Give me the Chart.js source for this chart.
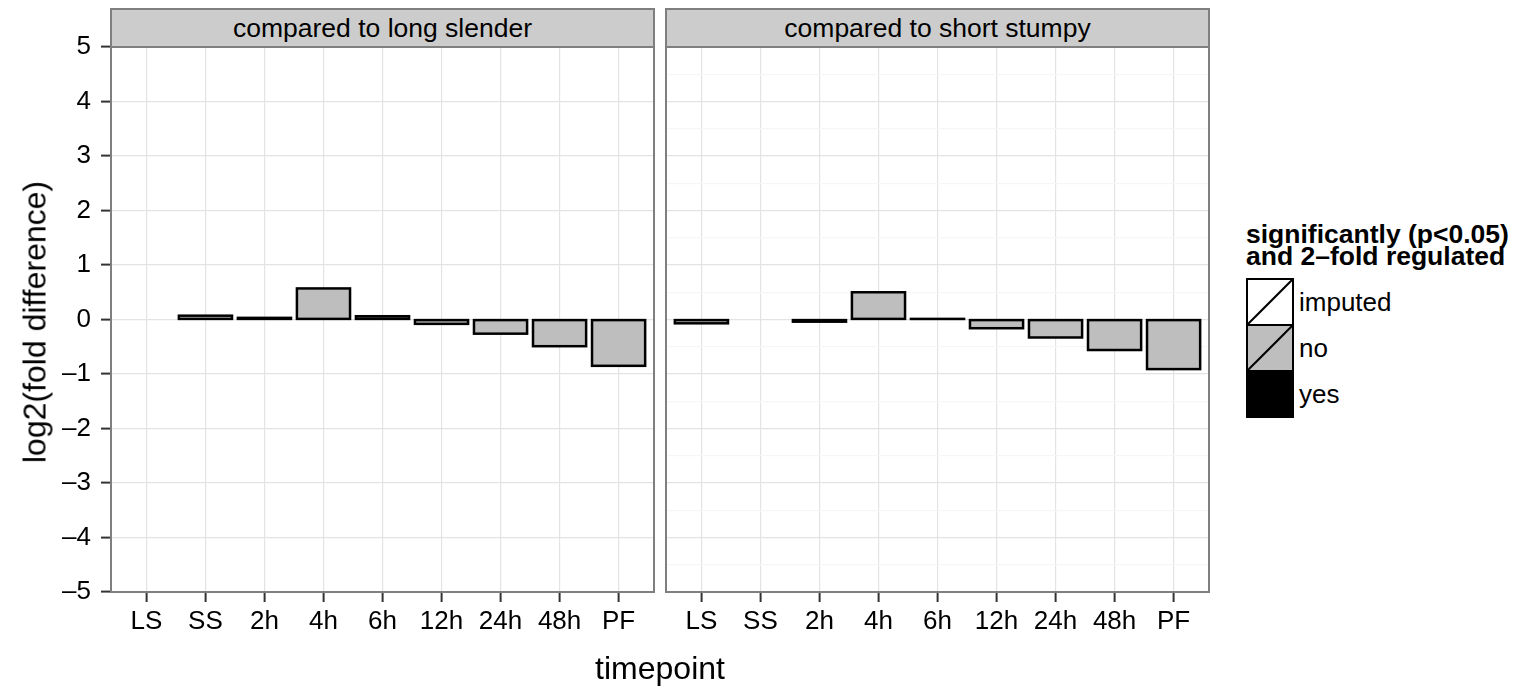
<!DOCTYPE html>
<html>
<head>
<meta charset="utf-8">
<script src="https://cdn.jsdelivr.net/npm/chart.js@4.4.1/dist/chart.umd.min.js"></script>
<style>
    body { margin: 0; width: 1530px; height: 688px; background: #fff; position: relative; overflow: hidden;
           font-family: "Liberation Sans", Arial, Helvetica, sans-serif; color: #000; }
    canvas { position: absolute; top: 0; }
    .strip { position: absolute; top: 8px; height: 40px; box-sizing: border-box; border: 2px solid #7f7f7f;
             background: #cccccc; font-size: 26.5px; line-height: 36px; text-align: center; white-space: nowrap; }
    .axTitle { position: absolute; font-size: 32px; white-space: nowrap; transform: translate(-50%, -50%); }
    #legTitle { position: absolute; left: 1246px; top: 224px; font-size: 26.5px; font-weight: bold; line-height: 21.5px; white-space: nowrap; }
    .legLabel { position: absolute; left: 1299px; font-size: 26px; transform: translateY(-50%); white-space: nowrap; }
</style>
</head>
<body>
<canvas id="painel1" width="660" height="688" style="left:0px"></canvas>
<canvas id="painel2" width="560" height="688" style="left:660px"></canvas>
<div class="strip" id="strip1" style="left:110px; width:545px"></div>
<div class="strip" id="strip2" style="left:665px; width:545px"></div>
<div class="axTitle" id="tituloY" style="left:35px; top:322px; transform: translate(-50%, -50%) rotate(-90deg)"></div>
<div class="axTitle" id="tituloX" style="left:660px; top:668px"></div>
<div id="legTitle"></div>
<svg id="legKeys" style="position:absolute; left:1246px; top:278px" width="50" height="144"></svg>

<script>
// dados
const timepoints = ['LS', 'SS', '2h', '4h', '6h', '12h', '24h', '48h', 'PF'];
const vsLongSlender = [null, 0.07, 0.03, 0.57, 0.06, -0.08, -0.26, -0.49, -0.85];
const vsShortStumpy = [-0.07, null, -0.04, 0.50, 0.01, -0.16, -0.33, -0.56, -0.91];
const panelTitles = ['compared to long slender', 'compared to short stumpy'];
const yMin = -5, yMax = 5;
const xTitle = 'timepoint';
const yTitle = 'log2(fold difference)';
const legendTitle = ['significantly (p<0.05)', 'and 2\u2013fold regulated'];
const legendLabels = ['imputed', 'no', 'yes'];
const legendFills = ['#ffffff', '#bebebe', '#000000'];

const fonte = '"Liberation Sans", Arial, Helvetica, sans-serif';

// borda do painel (theme_bw)
const bordaPainel = {
    id: 'bordaPainel',
    afterDraw(chart) {
        const { ctx, chartArea: a } = chart;
        ctx.save();
        ctx.strokeStyle = '#7f7f7f';
        ctx.lineWidth = 2;
        ctx.strokeRect(a.left, a.top, a.right - a.left, a.bottom - a.top);
        ctx.restore();
    }
};

// contorno preto das barras, centrado na borda como no ggplot
const contornoBarras = {
    id: 'contornoBarras',
    afterDatasetsDraw(chart) {
        const ctx = chart.ctx;
        ctx.save();
        ctx.strokeStyle = '#000';
        ctx.lineWidth = 2.5;
        chart.getDatasetMeta(0).data.forEach(bar => {
            const { x, y, base, width } = bar.getProps(['x', 'y', 'base', 'width'], true);
            ctx.strokeRect(x - width / 2, Math.min(y, base), width, Math.abs(base - y));
        });
        ctx.restore();
    }
};

function formatarY(v) {
    if (!Number.isInteger(v)) return '';
    return v < 0 ? '\u2013' + (-v) : String(v);
}

function criarPainel(id, valores, comEixoY) {
    const pontos = [];
    valores.forEach((v, i) => { if (v !== null) pontos.push({ x: i, y: v }); });

    return new Chart(document.getElementById(id).getContext('2d'), {
        type: 'bar',
        data: {
            datasets: [{
                data: pontos,
                backgroundColor: '#bebebe',
                borderWidth: 0,
                barPercentage: 0.9,
                categoryPercentage: 1.0
            }]
        },
        options: {
            responsive: false,
            animation: false,
            layout: { padding: { top: 47, right: comEixoY ? 6 : 11, left: 0, bottom: 0 } },
            plugins: { legend: { display: false }, tooltip: { enabled: false } },
            scales: {
                x: {
                    type: 'linear',
                    min: -0.6,
                    max: 8.6,
                    offset: false,
                    afterBuildTicks: scale => { scale.ticks = timepoints.map((_, i) => ({ value: i })); },
                    afterFit: scale => { scale.height = 96; },
                    border: { display: false },
                    grid: { offset: false, color: '#e3e3e3', lineWidth: 1.2, tickColor: '#333', tickLength: 10, tickWidth: 2 },
                    ticks: {
                        autoSkip: false, maxRotation: 0, padding: 4, color: '#000',
                        font: { family: fonte, size: 26 },
                        callback: v => timepoints[v]
                    }
                },
                y: {
                    min: yMin,
                    max: yMax,
                    afterFit: scale => { scale.width = comEixoY ? 111 : 6; },
                    border: { display: false },
                    grid: {
                        color: c => Number.isInteger(c.tick.value) ? '#e3e3e3' : '#f6f6f6',
                        lineWidth: 1.2,
                        drawTicks: comEixoY,
                        tickColor: c => Number.isInteger(c.tick.value) ? '#333' : 'rgba(0,0,0,0)',
                        tickLength: 10,
                        tickWidth: 2
                    },
                    ticks: {
                        display: comEixoY, stepSize: 0.5, padding: 10, color: '#000',
                        font: { family: fonte, size: 26 },
                        callback: formatarY
                    }
                }
            }
        },
        plugins: [contornoBarras, bordaPainel]
    });
}

criarPainel('painel1', vsLongSlender, true);
criarPainel('painel2', vsShortStumpy, false);

document.getElementById('strip1').textContent = panelTitles[0];
document.getElementById('strip2').textContent = panelTitles[1];
document.getElementById('tituloX').textContent = xTitle;
document.getElementById('tituloY').textContent = yTitle;
document.getElementById('legTitle').innerHTML = legendTitle.join('<br>');

// chaves da legenda
const svg = document.getElementById('legKeys');
let svgHtml = '';
legendLabels.forEach((rotulo, i) => {
    const y0 = 1 + 46 * i;
    svgHtml += `<rect x="1" y="${y0}" width="46" height="46" fill="${legendFills[i]}" stroke="#000" stroke-width="2"/>`;
    svgHtml += `<line x1="1" y1="${y0 + 46}" x2="47" y2="${y0}" stroke="#000" stroke-width="2"/>`;
    const lab = document.createElement('div');
    lab.className = 'legLabel';
    lab.style.top = (278 + 24 + 46 * i) + 'px';
    lab.textContent = rotulo;
    document.body.appendChild(lab);
});
svg.innerHTML = svgHtml;
</script>
</body>
</html>
